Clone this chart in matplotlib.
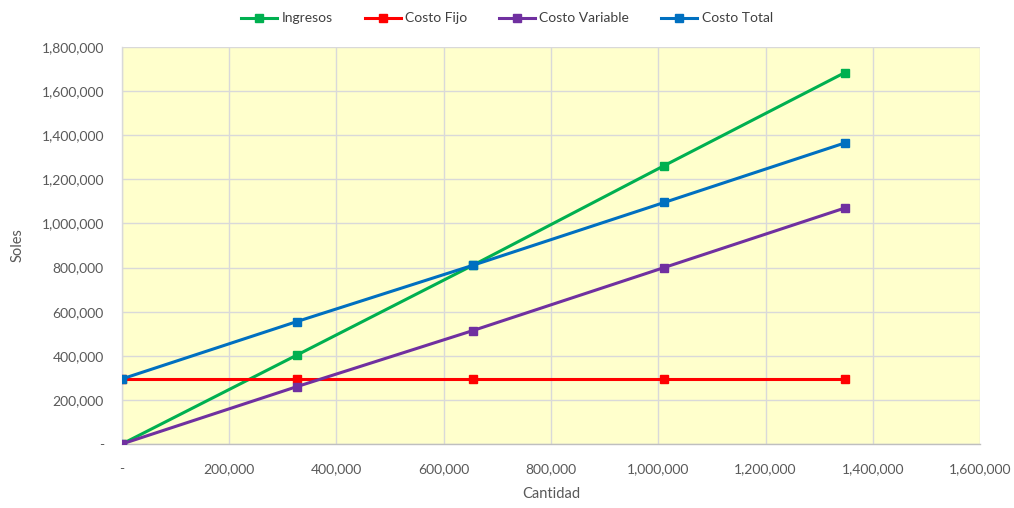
import matplotlib
matplotlib.use("Agg")
import matplotlib.pyplot as plt
from matplotlib.ticker import FuncFormatter, MultipleLocator

cantidad = [0, 326000, 654000, 1011000, 1348000]
ingresos = [0, 403000, 810000, 1262000, 1684000]
costo_fijo = [295000, 295000, 295000, 295000, 295000]
costo_variable = [0, 260000, 514000, 800000, 1070000]
costo_total = [295000, 555000, 810000, 1095000, 1365000]

series = [
    ("Ingresos", ingresos, "#00B050"),
    ("Costo Fijo", costo_fijo, "#FF0000"),
    ("Costo Variable", costo_variable, "#7030A0"),
    ("Costo Total", costo_total, "#0070C0"),
]

plt.rcParams["font.family"] = ["Lato", "DejaVu Sans"]

fig = plt.figure(figsize=(10.14, 5.08), dpi=100)
ax = fig.add_axes([0.1203, 0.126, 0.8462, 0.7815])
ax.set_facecolor("#FFFFCC")

for name, vals, color in series:
    ax.plot(cantidad, vals, color=color, lw=2.2, marker="s", ms=6,
            markeredgecolor=color, label=name, zorder=3)

ax.set_xlim(0, 1600000)
ax.set_ylim(0, 1800000)
ax.xaxis.set_major_locator(MultipleLocator(200000))
ax.yaxis.set_major_locator(MultipleLocator(200000))

fmt = FuncFormatter(lambda v, p: "-" if v == 0 else f"{v:,.0f}")
ax.xaxis.set_major_formatter(fmt)
ax.yaxis.set_major_formatter(fmt)

ax.grid(True, color="#D9D9D9", lw=1.0, zorder=0)
ax.set_axisbelow(True)
for side in ["top", "right"]:
    ax.spines[side].set_visible(False)
ax.spines["left"].set_color("#D9D9D9")
ax.spines["bottom"].set_color("#BFBFBF")
ax.spines["left"].set_linewidth(1.0)
ax.spines["bottom"].set_linewidth(1.0)

ax.tick_params(axis="both", length=0, labelsize=10, labelcolor="#595959")
ax.tick_params(axis="x", pad=14)
ax.tick_params(axis="y", pad=13)

ax.set_xlabel("Cantidad", fontsize=10.5, color="#595959", labelpad=8)
ax.set_ylabel("Soles", fontsize=10.5, color="#595959", labelpad=12)

fig.legend(loc="upper center", bbox_to_anchor=(0.5, 1.0), ncol=4, frameon=False,
           fontsize=10, labelcolor="#404040", handlelength=2.6, handletextpad=0.3,
           columnspacing=2.3, markerscale=1.0)

fig.savefig("out.png", dpi=100, facecolor="white")
